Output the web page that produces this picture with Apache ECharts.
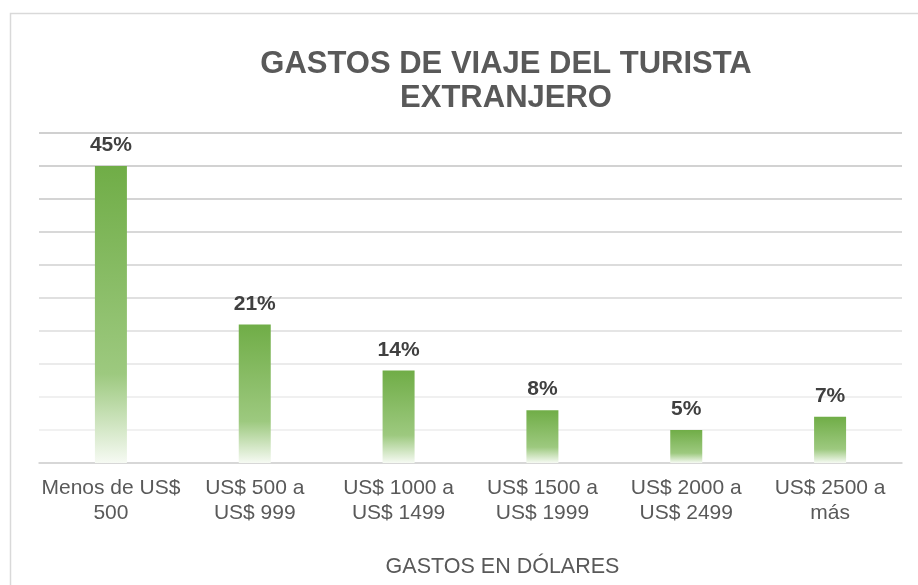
<!DOCTYPE html>
<html>
<head>
<meta charset="utf-8">
<script src="https://cdn.jsdelivr.net/npm/echarts@6/dist/echarts.min.js"></script>
<style>
  html, body { margin: 0; padding: 0; background: #fff; }
  #chart { width: 918px; height: 585px; }
</style>
</head>
<body>
<div id="chart"></div>
<script>
const categories = ['Menos de US$\n500', 'US$ 500 a\nUS$ 999', 'US$ 1000 a\nUS$ 1499', 'US$ 1500 a\nUS$ 1999', 'US$ 2000 a\nUS$ 2499', 'US$ 2500 a\nmás'];
const porcentajes = [45, 21, 14, 8, 5, 7];

const myChart = echarts.init(document.getElementById('chart'));

// degradado verde -> blanco de cada barra
const barColor = new echarts.graphic.LinearGradient(0, 0, 0, 1, [
    { offset: 0, color: '#70ad47' },
    { offset: 0.7, color: '#9dc97f' },
    { offset: 1, color: '#f6faf3' }
]);

const option = {
    backgroundColor: '#fff',
    animation: false,
    title: {
        text: 'GASTOS DE VIAJE DEL TURISTA\nEXTRANJERO',
        left: 501,
        top: 42,
        textAlign: 'center',
        textStyle: {
            fontFamily: 'Liberation Sans, Arial, sans-serif',
            fontSize: 31,
            fontWeight: 'bold',
            color: '#595959',
            lineHeight: 34
        }
    },
    graphic: [{
        type: 'rect',
        shape: { x: 10.5, y: 13.5, width: 940, height: 600 },
        style: { fill: 'none', stroke: '#d9d9d9', lineWidth: 1.5 },
        silent: true
    }],
    grid: {
        left: 39,
        right: 16,
        top: 133,
        bottom: 122
    },
    xAxis: {
        type: 'category',
        data: categories,
        name: 'GASTOS EN DÓLARES',
        nameLocation: 'middle',
        nameGap: 93,
        nameTextStyle: {
            fontFamily: 'Liberation Sans, Arial, sans-serif',
            fontSize: 21.5,
            color: '#595959',
            padding: [0, 0, 0, 64]
        },
        axisTick: { show: false },
        axisLine: { lineStyle: { color: '#d0d0d0', width: 1.5 } },
        axisLabel: {
            interval: 0,
            margin: 13,
            fontFamily: 'Liberation Sans, Arial, sans-serif',
            fontSize: 21,
            lineHeight: 25,
            color: '#595959'
        }
    },
    yAxis: {
        type: 'value',
        min: 0,
        max: 50,
        interval: 5,
        axisLabel: { show: false },
        axisLine: { show: false },
        axisTick: { show: false },
        splitLine: {
            lineStyle: {
                width: 1.5,
                color: ['#e6e6e6', '#ececec', '#ebebeb', '#e4e4e4', '#dddddd', '#d6d6d6', '#d0d0d0', '#cbcbcb', '#c6c6c6', '#c3c3c3', '#c0c0c0']
            }
        }
    },
    series: [{
        type: 'bar',
        data: porcentajes,
        barWidth: 32,
        itemStyle: { color: barColor },
        label: {
            show: true,
            position: 'top',
            distance: 10,
            formatter: '{c}%',
            fontFamily: 'Liberation Sans, Arial, sans-serif',
            fontSize: 21,
            fontWeight: 'bold',
            color: '#404040'
        }
    }]
};

myChart.setOption(option);
</script>
</body>
</html>
